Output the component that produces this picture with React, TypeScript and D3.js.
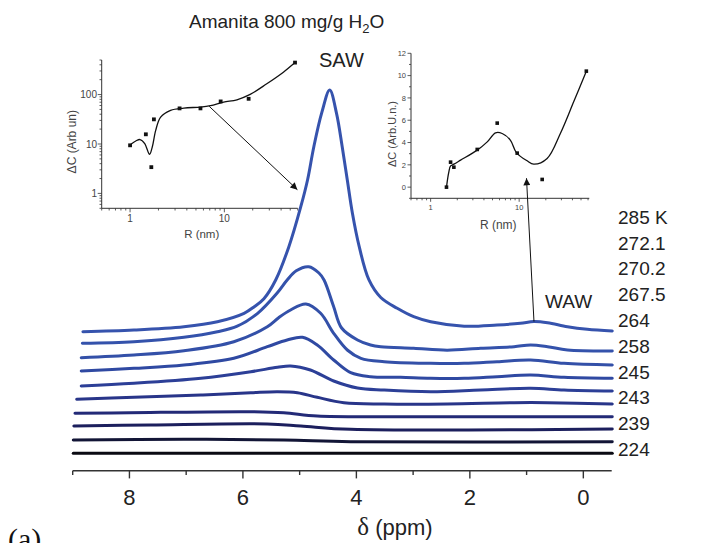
import React from 'react';
import * as d3 from 'd3';

const W = 709, H = 543;
const FONT = 'Liberation Sans, Arial, Helvetica, sans-serif';

// ---- main spectra: [ppm, intensity (arb.)] ----
const temps = ['285 K', '272.1', '270.2', '267.5', '264', '258', '245', '243', '239', '224'];
const spec285: [number, number][] = [[8.82,139],[7.92,140.7],[7.04,144],[6.45,149],[5.98,157.4],[5.80,164],[5.63,172],[5.42,191],[5.19,224],[4.98,264],[4.86,291],[4.75,324],[4.61,358],[4.47,380.7],[4.35,357.4],[4.25,324],[4.16,290.7],[4.07,257.4],[3.95,224],[3.78,191],[3.57,173.2],[3.28,162.4],[2.99,154],[2.69,149],[2.10,144.5],[1.52,145.7],[1.11,147.4],[0.87,149.2],[0.63,148],[0.28,144],[-0.07,141.4],[-0.51,139.7]];
const spec272: [number, number][] = [[8.83,127.4],[7.92,129],[7.04,133.4],[6.45,139],[6.10,144.5],[5.74,157.4],[5.40,177.4],[5.22,190.7],[5.06,200],[4.84,204],[4.66,197.7],[4.57,190.7],[4.40,164],[4.26,142.7],[3.98,130.7],[3.75,125.7],[3.57,124],[2.99,122.4],[2.40,120.5],[1.81,122.4],[1.22,124],[0.93,125.7],[0.63,124],[0.28,120.7],[-0.51,119.7]];
const spec270: [number, number][] = [[8.85,113],[7.92,115.7],[7.04,120],[6.16,129],[5.57,144],[5.37,153],[5.16,160.7],[4.89,166.7],[4.63,157.4],[4.40,137.4],[4.16,120.7],[3.92,112.4],[3.51,109],[2.69,107.4],[2.10,107.4],[1.52,109],[0.93,110.7],[0.34,107.4],[-0.51,105.7]];
const spec267: [number, number][] = [[8.85,99.7],[7.92,102.4],[7.04,105.7],[6.16,112.4],[5.57,124],[5.22,130.7],[4.95,133.4],[4.69,125.7],[4.40,110.7],[4.10,98],[3.75,94],[3.22,93.4],[2.69,92.4],[2.10,92.4],[1.52,94],[0.93,95.7],[0.34,93.4],[-0.51,92.4]];
const spec264: [number, number][] = [[8.85,84.7],[7.92,87.4],[6.74,92.4],[5.86,99],[5.39,103.4],[5.16,104.7],[4.81,100.7],[4.40,89.7],[3.98,82.7],[3.51,80.7],[2.69,79],[1.81,80.7],[0.93,82.4],[0.34,80.7],[-0.51,79.7]];
const spec258: [number, number][] = [[8.93,71.4],[7.92,73.4],[6.74,75.7],[5.86,78],[5.39,79],[5.04,78],[4.69,73.4],[4.22,68],[3.51,66.7],[2.40,66.7],[1.22,68],[0.63,68],[-0.51,66.7]];
const spec245: [number, number][] = [[8.96,57.4],[8.0,58],[5.86,59],[5.28,58],[4.69,54.7],[3.22,54],[-0.51,54]];
const spec243: [number, number][] = [[8.98,44.7],[7.63,45.7],[5.57,46.7],[4.98,44.7],[4.10,41.4],[-0.51,41.7]];
const spec239: [number, number][] = [[8.99,30.7],[7.04,31.4],[5.28,30.7],[4.10,29],[-0.51,29]];
const spec224: [number, number][] = [[8.99,17.4],[-0.51,17.4]];
const spectra = [spec285, spec272, spec270, spec267, spec264, spec258, spec245, spec243, spec239, spec224];
const colors = ['#3653ad', '#3452ab', '#3350a8', '#2f49a2', '#2c3f97', '#283589', '#232a77', '#1c1f5d', '#121536', '#0a0a12'];

const xMajor = [8, 6, 4, 2, 0];
const xMinor = [9, 7, 5, 3, 1];

// ---- left inset (SAW) ----
const radiiSaw = [1.0, 1.47, 1.68, 1.79, 3.35, 5.58, 9.14, 18.1, 56.2];
const dCsaw = [9.4, 15.7, 3.4, 31.5, 52.5, 52.5, 72.6, 82, 443];
const sawFitR = [1.02, 1.15, 1.275, 1.43, 1.61, 1.72, 1.87, 2.11, 2.69, 3.72, 5.58, 7.13, 9.83, 13.6, 18.8, 28.2, 42.3, 56.2];
const sawFitC = [9.9, 11.5, 12.3, 10.2, 6.2, 8.7, 18.9, 35, 47.8, 53.2, 55.8, 59.5, 70.2, 78.4, 100.5, 165, 283, 443];

// ---- right inset (WAW) ----
const radiiWaw = [1.51, 1.68, 1.83, 3.36, 5.65, 9.5, 18.2, 57.4];
const dCwaw = [0, 2.24, 1.79, 3.38, 5.74, 3.05, 0.69, 10.4];
const wawFitR = [1.51, 1.6, 1.68, 1.83, 2.18, 3.36, 4.36, 5.41, 6.43, 7.98, 9.3, 12.3, 14.6, 20.7, 29.2, 41.3, 57.4];
const wawFitC = [0, 1.3, 1.9, 2.06, 2.42, 3.32, 4.06, 4.87, 4.81, 4.2, 3.1, 2.36, 2.06, 2.57, 4.81, 7.65, 10.4];
const wawYTicks = [0, 2, 4, 6, 8, 10, 12];

export default function App() {
  const x = d3.scaleLinear().domain([9, -0.5]).range([72.7, 611.7]);
  const y = d3.scaleLinear().domain([0, 400]).range([470.7, 70.7]);
  const line = d3.line<[number, number]>().x(d => x(d[0])).y(d => y(d[1])).curve(d3.curveCatmullRom.alpha(0.5));

  const xL = d3.scaleLog().domain([0.5, 60]).range([101.7, 297.7]);
  const yL = d3.scaleLog().domain([0.5, 500]).range([208.3, 60]);
  const xR = d3.scaleLog().domain([0.6, 62]).range([411, 589.3]);
  const yR = d3.scaleLinear().domain([-1, 12]).range([198.3, 53.3]);

  const fitL = d3.line<number>().x((_, i) => xL(sawFitR[i])).y(d => yL(d)).curve(d3.curveCatmullRom.alpha(0.5));
  const fitR = d3.line<number>().x((_, i) => xR(wawFitR[i])).y(d => yR(d)).curve(d3.curveCatmullRom.alpha(0.5));

  const isPow10 = (v: number) => Math.abs(Math.log10(v) - Math.round(Math.log10(v))) < 1e-6;
  const xLt = xL.ticks();
  const yLt = yL.ticks();
  const xRt = xR.ticks();
  const yRminor = d3.range(-1, 12.01, 1).filter(v => !wawYTicks.includes(v));

  const labelY = [217, 243, 268.5, 294.5, 320, 346, 372, 397, 423, 449];

  // annotation anchors (data units)
  const sawFrom = [xL(6.9), yL(58)];
  const sawTo = [x(5.04), y(281)];
  const wawFrom = [x(0.87), y(149.2)];
  const wawTo = [xR(12.1), yR(0.8)];

  return (
    <svg width={W} height={H} style={{ position: 'absolute', left: 0, top: 0, background: '#fff' }} fontFamily={FONT}>
      <defs>
        <marker id="arr" viewBox="0 0 10 10" refX="10" refY="5" markerWidth="11" markerHeight="7" markerUnits="userSpaceOnUse" orient="auto">
          <path d="M0,0 L10,5 L0,10 z" fill="#111" />
        </marker>
      </defs>
      <rect width={W} height={H} fill="#fff" />

      {/* spectra */}
      {spectra.map((s, i) => (
        <path key={i} d={line(s) || ''} fill="none" stroke={colors[i]} strokeWidth={3} strokeLinejoin="round" strokeLinecap="round" />
      ))}

      {/* main x axis */}
      <line x1={x(9)} x2={x(-0.5)} y1={470.7} y2={470.7} stroke="#333" strokeWidth={1.4} />
      {xMajor.map(t => (
        <g key={'M' + t}>
          <line x1={x(t)} x2={x(t)} y1={470.7} y2={478.4} stroke="#333" strokeWidth={1.4} />
          <text x={x(t)} y={505} fontSize={22} textAnchor="middle" fill="#222">{t}</text>
        </g>
      ))}
      {xMinor.map(t => (
        <line key={'m' + t} x1={x(t)} x2={x(t)} y1={470.7} y2={475} stroke="#333" strokeWidth={1.4} />
      ))}
      <text x={395} y={535} fontSize={22} textAnchor="middle" fill="#222">
        <tspan fontFamily="Liberation Serif, Times New Roman, serif" fontSize={25}>δ</tspan> (ppm)
      </text>

      {/* temperature labels */}
      {temps.map((t, i) => (
        <text key={t} x={618} y={labelY[i] + 6.8} fontSize={19} fill="#222">{t}</text>
      ))}

      {/* title and labels */}
      <text x={189} y={28} fontSize={19} fill="#222">
        Amanita 800 mg/g H<tspan fontSize={13} dy={5}>2</tspan><tspan dy={-5}>O</tspan>
      </text>
      <text x={319} y={67} fontSize={20} fill="#222">SAW</text>
      <text x={545} y={308} fontSize={19} fill="#222">WAW</text>
      <text x={8} y={549} fontSize={30} fontFamily="Liberation Serif, Times New Roman, serif" fill="#111">(a)</text>

      {/* left inset */}
      <g>
        <line x1={101.7} x2={101.7} y1={60} y2={208.3} stroke="#333" strokeWidth={1} />
        <line x1={101.7} x2={297.7} y1={208.3} y2={208.3} stroke="#333" strokeWidth={1} />
        {yLt.map((t, i) => (
          <line key={'yl' + i} x1={101.7 - (isPow10(t) ? 4 : 2.2)} x2={101.7} y1={yL(t)} y2={yL(t)} stroke="#333" strokeWidth={0.8} />
        ))}
        {[1, 10, 100].map(t => (
          <text key={'yll' + t} x={97} y={yL(t) + 3.6} fontSize={10} textAnchor="end" fill="#444">{t}</text>
        ))}
        {xLt.map((t, i) => (
          <line key={'xl' + i} x1={xL(t)} x2={xL(t)} y1={208.3} y2={208.3 + (isPow10(t) ? 4 : 2.2)} stroke="#333" strokeWidth={0.8} />
        ))}
        {[1, 10].map(t => (
          <text key={'xll' + t} x={xL(t)} y={222} fontSize={10} textAnchor="middle" fill="#444">{t}</text>
        ))}
        <text x={201.7} y={237.5} fontSize={11.5} textAnchor="middle" fill="#444">R (nm)</text>
        <text transform="translate(75.5,141.7) rotate(-90)" fontSize={12} textAnchor="middle" fill="#444">ΔC (Arb un)</text>
        <path d={fitL(sawFitC) || ''} fill="none" stroke="#111" strokeWidth={1.3} />
        {radiiSaw.map((r, i) => (
          <rect key={'ps' + i} x={xL(r) - 1.9} y={yL(dCsaw[i]) - 1.9} width={3.8} height={3.8} fill="#111" />
        ))}
      </g>

      {/* right inset */}
      <g>
        <line x1={411} x2={411} y1={53.3} y2={198.3} stroke="#333" strokeWidth={1} />
        <line x1={411} x2={589.3} y1={198.3} y2={198.3} stroke="#333" strokeWidth={1} />
        {wawYTicks.map(t => (
          <g key={'yr' + t}>
            <line x1={407.5} x2={411} y1={yR(t)} y2={yR(t)} stroke="#333" strokeWidth={0.8} />
            <text x={406} y={yR(t) + 2.7} fontSize={7.5} textAnchor="end" fill="#444">{t}</text>
          </g>
        ))}
        {yRminor.map(t => (
          <line key={'yrm' + t} x1={409} x2={411} y1={yR(t)} y2={yR(t)} stroke="#333" strokeWidth={0.8} />
        ))}
        {xRt.map((t, i) => (
          <line key={'xr' + i} x1={xR(t)} x2={xR(t)} y1={198.3} y2={198.3 + (isPow10(t) ? 3.5 : 2)} stroke="#333" strokeWidth={0.8} />
        ))}
        {[1, 10].map(t => (
          <text key={'xrl' + t} x={xR(t)} y={210} fontSize={7.5} textAnchor="middle" fill="#444">{t}</text>
        ))}
        <text x={498.3} y={228.5} fontSize={12} textAnchor="middle" fill="#444">R (nm)</text>
        <text transform="translate(395.5,134) rotate(-90)" fontSize={11} textAnchor="middle" fill="#444">ΔC (Arb.U.n.)</text>
        <path d={fitR(wawFitC) || ''} fill="none" stroke="#111" strokeWidth={1.3} />
        {radiiWaw.map((r, i) => (
          <rect key={'pw' + i} x={xR(r) - 1.8} y={yR(dCwaw[i]) - 1.8} width={3.6} height={3.6} fill="#111" />
        ))}
      </g>

      {/* arrows */}
      <line x1={sawFrom[0]} y1={sawFrom[1]} x2={sawTo[0]} y2={sawTo[1]} stroke="#111" strokeWidth={1} markerEnd="url(#arr)" />
      <line x1={wawFrom[0]} y1={wawFrom[1]} x2={wawTo[0]} y2={wawTo[1]} stroke="#111" strokeWidth={1} markerEnd="url(#arr)" />
    </svg>
  );
}
